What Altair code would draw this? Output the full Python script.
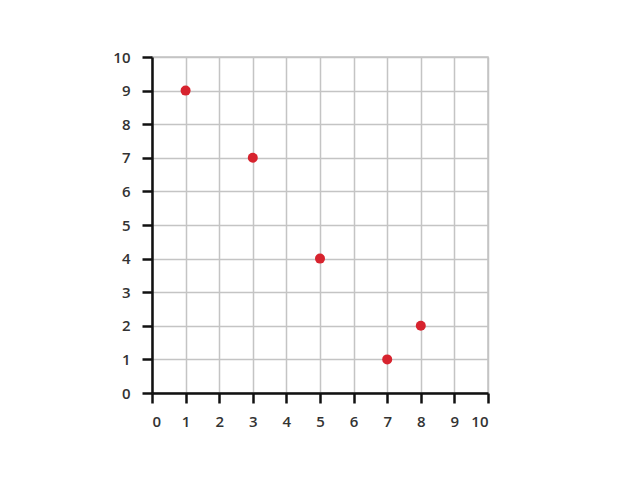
import altair as alt
import pandas as pd

xs = [1, 3, 5, 7, 8]
ys = [9, 7, 4, 1, 2]
ticks = list(range(0, 11))

df = pd.DataFrame({"x": xs, "y": ys})

axis_common = dict(
    values=ticks,
    grid=True,
    gridColor="#c4c4c4",
    gridWidth=1.5,
    domainColor="#111111",
    domainWidth=2.5,
    tickColor="#111111",
    tickWidth=2.5,
    tickSize=10,
    labelFont="Open Sans",
    labelFontSize=15,
    labelFontWeight=600,
    labelColor="#333333",
    title=None,
)

chart = alt.Chart(df).mark_circle(size=100, color="#d7232e", opacity=1).encode(
    x=alt.X("x:Q", scale=alt.Scale(domain=[0, 10], nice=False),
            axis=alt.Axis(labelPadding=11, **axis_common)),
    y=alt.Y("y:Q", scale=alt.Scale(domain=[0, 10], nice=False),
            axis=alt.Axis(labelPadding=12, **axis_common)),
).properties(
    width=336,
    height=336,
    autosize=alt.AutoSizeParams(type="none"),
    padding={"left": 144, "top": 49, "right": 20, "bottom": 60},
).configure_view(stroke="#c4c4c4", strokeWidth=1.5)

chart.save("out.html", embed_options={"renderer": "svg", "actions": False})
